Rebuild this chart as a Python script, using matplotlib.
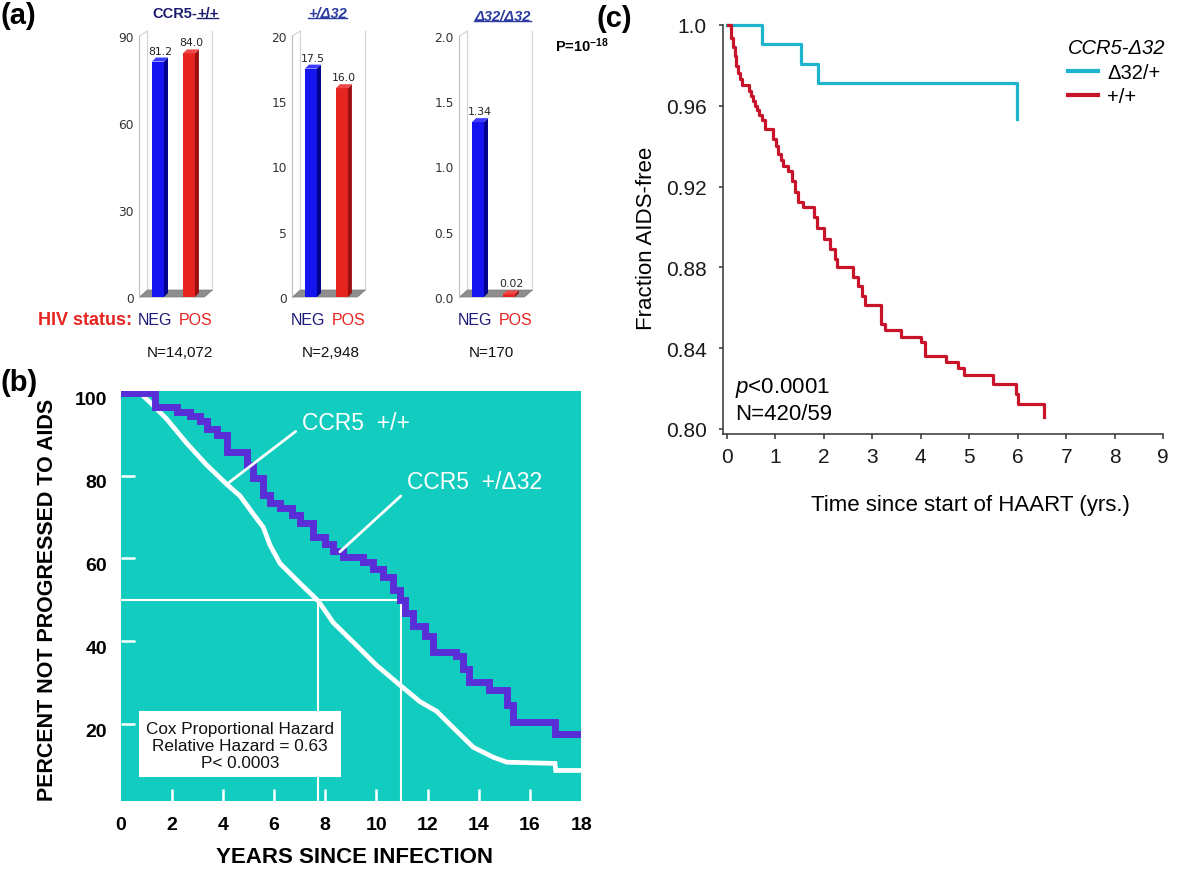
import numpy as np
import matplotlib
matplotlib.use('Agg')
import matplotlib.pyplot as plt
from matplotlib.patches import Polygon, Rectangle
from matplotlib.lines import Line2D
from matplotlib.transforms import offset_copy

plt.rcParams['font.family'] = ['Liberation Sans', 'DejaVu Sans']
plt.rcParams['mathtext.fontset'] = 'custom'
plt.rcParams['mathtext.rm'] = 'Liberation Sans'
plt.rcParams['mathtext.it'] = 'Liberation Sans:italic'
plt.rcParams['mathtext.bf'] = 'Liberation Sans:bold'

# ---------------- data ----------------
# (a) genotype frequencies (%) by HIV status
genotype_prefix = 'CCR5-'
genotypes = ['+/+', '+/Δ32', 'Δ32/Δ32']
hiv_status = ['NEG', 'POS']
freq_neg = [81.2, 17.5, 1.34]
freq_pos = [84.0, 16.0, 0.02]
freq_neg_labels = ['81.2', '17.5', '1.34']
freq_pos_labels = ['84.0', '16.0', '0.02']
bar_ymax = [90, 20, 2.0]
bar_yticks = [[0, 30, 60, 90], [0, 5, 10, 15, 20], [0, 0.5, 1.0, 1.5, 2.0]]
bar_yticklabels = [['0', '30', '60', '90'], ['0', '5', '10', '15', '20'],
                   ['0.0', '0.5', '1.0', '1.5', '2.0']]
n_labels = ['N=14,072', 'N=2,948', 'N=170']
p_text_a = r'P=10$^{\mathbf{-18}}$'

# (b) percent not progressed to AIDS vs years since infection
wt_years = [0, 0.76, 1.15, 1.8, 2.59, 3.36, 4.15, 4.67, 5.19, 5.58, 5.84, 6.23, 7.01,
            7.73, 8.31, 9.22, 10.0, 10.92, 11.7, 12.35, 13.0, 13.78, 14.56, 15.09,
            16.97, 17.0, 18.0]
wt_pct = [100, 100, 97.7, 93.7, 87.8, 82.6, 77.9, 75.1, 70.7, 67.5, 63.2, 58.8, 54.0,
          49.7, 44.5, 39.0, 34.2, 29.4, 25.4, 23.1, 19.1, 14.4, 12.0, 10.8,
          10.5, 8.8, 8.8]
het_years = [0, 1.35, 2.19, 2.72, 3.1, 3.36, 3.76, 4.15, 4.93, 5.19, 5.58, 5.84, 6.23,
             6.69, 7.01, 7.53, 8.0, 8.31, 8.7, 9.48, 9.87, 10.26, 10.65, 10.9, 11.1,
             11.44, 11.9, 12.2, 13.1, 13.36, 13.6, 14.4, 15.08, 15.34, 16.97, 18.0]
het_pct = [100, 96.5, 95.3, 94.5, 93.3, 91.3, 89.7, 85.8, 82.6, 79.4, 75.4, 73.4, 72.2,
           70.6, 68.6, 65.1, 63.5, 61.9, 60.3, 59.1, 57.5, 55.5, 52.4, 50.0, 46.8,
           43.6, 41.3, 37.3, 36.5, 33.3, 30.2, 28.2, 24.6, 20.6, 17.5, 17.5]
median_pct = 50
median_wt = 7.73
median_het = 10.95
b_xticks = list(range(0, 19, 2))
b_yticks = [20, 40, 60, 80, 100]
cox_text = 'Cox Proportional Hazard\nRelative Hazard = 0.63\nP< 0.0003'

# (c) fraction AIDS-free vs time since HAART
d32_years = [0, 0.72, 1.53, 1.88, 5.98]
d32_frac = [1.0, 0.9906, 0.9807, 0.9711, 0.9535]
wt_c_years = [0.03, 0.08, 0.13, 0.17, 0.20, 0.24, 0.28, 0.31, 0.45, 0.51, 0.55, 0.58,
              0.62, 0.66, 0.72, 0.79, 0.96, 1.01, 1.06, 1.12, 1.17, 1.27, 1.34, 1.41,
              1.48, 1.58, 1.79, 1.86, 2.01, 2.13, 2.23, 2.28, 2.60, 2.71, 2.78, 2.85,
              3.19, 3.26, 3.60, 4.01, 4.08, 4.53, 4.77, 4.89, 5.48, 5.97, 6.01, 6.54]
wt_c_frac = [1.0, 0.9934, 0.9889, 0.9845, 0.9798, 0.9760, 0.9733, 0.9702, 0.9675,
             0.9650, 0.9625, 0.9600, 0.9578, 0.9555, 0.9530, 0.9485, 0.9436, 0.9400,
             0.9361, 0.9330, 0.9303, 0.9278, 0.9229, 0.9175, 0.9125, 0.9097, 0.9048,
             0.8993, 0.8940, 0.8891, 0.8842, 0.8803, 0.8751, 0.8710, 0.8660, 0.8616,
             0.8520, 0.8491, 0.8457, 0.8430, 0.8363, 0.8330, 0.8300, 0.8267, 0.8223,
             0.8173, 0.8124, 0.8058]
c_xticks = list(range(0, 10))
c_yticks = [0.80, 0.84, 0.88, 0.92, 0.96, 1.0]
c_yticklabels = ['0.80', '0.84', '0.88', '0.92', '0.96', '1.0']
legend_title = 'CCR5-Δ32'
legend_labels = ['Δ32/+', '+/+']

# ---------------- figure ----------------
W, H = 1200, 870
fig = plt.figure(figsize=(12, 8.7), dpi=100)


def fx(px):
    return px / W


def fy(py):
    return 1 - py / H


def axrect(l, t, r, b):
    return [l / W, 1 - b / H, (r - l) / W, (b - t) / H]


# panel labels
for lab, x, y in [('(a)', 0, 16), ('(b)', 0, 383), ('(c)', 597, 19)]:
    fig.text(fx(x), fy(y), lab, fontsize=21, fontweight='bold', ha='left', va='center')

# ---------------- (a) bar charts ----------------
bar_left_px = [139.4, 292.4, 459.4]
ax_w_px, ax_top, ax_bot = 65, 37, 298
xmin, xmax = -0.6, 1.5
bw_px, depth_px = 12, 4
col_front = ['#1414F0', '#E62420']
col_side = ['#00008A', '#9A1010']
col_top = ['#3C3CFF', '#F04848']
status_colors = ['#1A1A78', '#E62420']
status_offsets_px = [16, 56]

for i in range(3):
    L = bar_left_px[i]
    ax = fig.add_axes(axrect(L, ax_top, L + ax_w_px, ax_bot))
    ymax = bar_ymax[i]
    ax.set_xlim(xmin, xmax)
    ax.set_ylim(0, ymax)
    ax.patch.set_visible(False)
    for s in ['top', 'right', 'bottom']:
        ax.spines[s].set_visible(False)
    ax.spines['left'].set_color('#BEBEBE')
    ax.spines['left'].set_linewidth(0.8)
    kx = (xmax - xmin) / ax_w_px
    ky = ymax / (ax_bot - ax_top)
    # floor
    floor = Polygon([(xmin, 0), (xmax, 0), (xmax + 8 * kx, 7 * ky), (xmin + 8 * kx, 7 * ky)],
                    closed=True, facecolor='#8E8E8E', edgecolor='#7A7A7A', lw=0.5,
                    clip_on=False, zorder=1)
    ax.add_patch(floor)
    # back walls
    ax.add_line(Line2D([xmin + 8 * kx, xmin + 8 * kx], [7 * ky, ymax + 5 * ky], color='#D2D2D2',
                       lw=0.8, clip_on=False, zorder=0))
    ax.add_line(Line2D([xmax + 8 * kx, xmax + 8 * kx], [7 * ky, ymax + 5 * ky], color='#D2D2D2',
                       lw=0.8, clip_on=False, zorder=0))
    ax.add_line(Line2D([xmin, xmin + 8 * kx], [ymax, ymax + 5 * ky], color='#D2D2D2',
                       lw=0.8, clip_on=False, zorder=0))
    vals = [freq_neg[i], freq_pos[i]]
    labs = [freq_neg_labels[i], freq_pos_labels[i]]
    w = bw_px * kx
    dx, dy = depth_px * kx, depth_px * ky
    bars = ax.bar([0, 1], vals, width=w, color=col_front, zorder=3, clip_on=False)
    for j, (b, v) in enumerate(zip(bars, vals)):
        xr = b.get_x() + b.get_width()
        xl = b.get_x()
        side = Polygon([(xr, 0), (xr, v), (xr + dx, v + dy), (xr + dx, dy)], closed=True,
                       facecolor=col_side[j], edgecolor='none', zorder=3, clip_on=False)
        top = Polygon([(xl, v), (xr, v), (xr + dx, v + dy), (xl + dx, v + dy)], closed=True,
                      facecolor=col_top[j], edgecolor='none', zorder=3, clip_on=False)
        ax.add_patch(side)
        ax.add_patch(top)
        ax.text(j + dx / 2, v + dy + 2 * ky, labs[j], ha='center', va='bottom',
                fontsize=7.8, family='DejaVu Sans', color='#222222', zorder=4)
    ax.set_yticks(bar_yticks[i])
    ax.set_yticklabels(bar_yticklabels[i], family='DejaVu Sans', fontsize=8.8, color='#333333')
    ax.tick_params(axis='y', length=0, pad=4)
    ax.set_xticks([])
    for lab, off, c in zip(hiv_status, status_offsets_px, status_colors):
        fig.text(fx(L + off), fy(320.5), lab, ha='center', va='center', fontsize=11.5,
                 color=c)

fig.text(fx(132), fy(320.5), 'HIV status:', ha='right', va='center', color='#E62420',
         fontsize=13, fontweight='bold')
for lab, x in zip(n_labels, [180, 331, 491]):
    fig.text(fx(x), fy(353), lab, ha='center', va='center', fontsize=11, color='#111111')

fig.text(fx(555), fy(46), p_text_a, ha='left', va='center', fontsize=10.5, fontweight='bold')

# titles with underlines
t_pre = fig.text(fx(197), fy(14), genotype_prefix, ha='right', va='center', fontsize=10.5,
                 fontweight='bold', color='#1C1C6E')
t1 = fig.text(fx(197), fy(14), genotypes[0], ha='left', va='center', fontsize=10.5,
              fontweight='bold', color='#1C1C6E')
t2 = fig.text(fx(327.5), fy(14), genotypes[1], ha='center', va='center', fontsize=10.5,
              fontweight='bold', style='italic', color='#2B3BA0')
t3 = fig.text(fx(502.5), fy(17), genotypes[2], ha='center', va='center', fontsize=10.5,
              fontweight='bold', style='italic', color='#2B3BA0')

# ---------------- (b) ----------------
teal = '#12CDBF'
purple = '#5A2ED6'
ax_b = fig.add_axes(axrect(120.5, 391.7, 581.3, 801.7))
ax_b.set_facecolor(teal)
for s in ax_b.spines.values():
    s.set_visible(False)
ax_b.set_xlim(0, 18)
ax_b.set_ylim(1.5, 100.5)
ax_b.plot(wt_years, wt_pct, color='white', lw=3.4, zorder=3, solid_joinstyle='miter')
ax_b.plot(het_years, het_pct, color=purple, lw=5.0, drawstyle='steps-post', zorder=4,
          solid_joinstyle='miter')
ax_b.hlines(median_pct, 0, median_het, color='white', lw=1.5, zorder=2)
ax_b.vlines([median_wt, median_het], 1.5, median_pct, color='white', lw=1.5, zorder=2)

ax_b.set_xticks(b_xticks)
ax_b.set_xticklabels([str(v) for v in b_xticks], fontsize=14, fontweight='bold')
ax_b.tick_params(axis='x', direction='in', length=8.6, width=1.8, color='white', pad=11)
xt = ax_b.xaxis.get_major_ticks()
xt[0].tick1line.set_visible(False)
xt[-1].tick1line.set_visible(False)
ax_b.set_yticks(b_yticks)
ax_b.set_yticklabels([])
ax_b.tick_params(axis='y', direction='in', length=10, width=1.8, color='white')
ax_b.yaxis.get_major_ticks()[-1].tick1line.set_visible(False)
ylab_tr = offset_copy(ax_b.get_yaxis_transform(), fig=fig, x=-0.135, y=-0.07, units='inches')
for v in b_yticks:
    ax_b.text(0, v, str(v), transform=ylab_tr, ha='right', va='center', fontsize=14,
              fontweight='bold', clip_on=False)

ax_b.annotate('CCR5  +/+', xy=(4.21, 78.2), xytext=(7.08, 92.9), color='white', fontsize=16.5,
              ha='left', va='center',
              arrowprops=dict(arrowstyle='-', color='white', lw=2, shrinkA=3, shrinkB=0,
                              relpos=(0, 0.3)), zorder=5)
ax_b.annotate('CCR5  +/Δ32', xy=(8.57, 61.6), xytext=(11.18, 78.6), color='white',
              fontsize=16.5, ha='left', va='center',
              arrowprops=dict(arrowstyle='-', color='white', lw=2, shrinkA=3, shrinkB=0,
                              relpos=(0, 0.1)), zorder=5)

ax_b.add_patch(Rectangle((0.0408, 0.057), 0.437, 0.1625, transform=ax_b.transAxes,
                         facecolor='white', edgecolor='none', zorder=6))
ax_b.text(0.2594, 0.134, cox_text, transform=ax_b.transAxes, ha='center', va='center',
          fontsize=12.3, linespacing=1.18, zorder=7, color='#111111')

fig.text(fx(47.5), fy(600), 'PERCENT NOT PROGRESSED TO AIDS', rotation=90, ha='center',
         va='center', fontsize=15.5, fontweight='bold')
fig.text(fx(355), fy(858), 'YEARS SINCE INFECTION', ha='center', va='center', fontsize=16,
         fontweight='bold')

# ---------------- (c) ----------------
cyan = '#1EB4CE'
red = '#C8142A'
ax_c = fig.add_axes(axrect(723.3, 26, 1163.3, 435))
ax_c.set_xlim(-0.07, 9.0)
ax_c.set_ylim(0.7975, 1.0)
for s in ['top', 'right']:
    ax_c.spines[s].set_visible(False)
for s in ['left', 'bottom']:
    ax_c.spines[s].set_color('#333333')
    ax_c.spines[s].set_linewidth(1.1)
l_d32, = ax_c.plot(d32_years, d32_frac, color=cyan, lw=2.3, drawstyle='steps-post',
                   clip_on=False, zorder=3)
l_wt, = ax_c.plot(wt_c_years, wt_c_frac, color=red, lw=2.3, drawstyle='steps-post',
                  clip_on=False, zorder=3)
ax_c.set_xticks(c_xticks)
ax_c.set_xticklabels([str(v) for v in c_xticks], fontsize=15, color='#1A1A1A')
ax_c.set_yticks(c_yticks)
ax_c.set_yticklabels(c_yticklabels, fontsize=15, color='#1A1A1A')
ax_c.tick_params(axis='x', length=3.6, width=1.1, color='#333333', pad=6)
ax_c.tick_params(axis='y', length=3, width=1.1, color='#333333', pad=8.8)
fig.text(fx(646), fy(238), 'Fraction AIDS-free', rotation=90, ha='center', va='center',
         fontsize=16)
fig.text(fx(970), fy(505), 'Time since start of HAART (yrs.)', ha='center', va='center',
         fontsize=16)
fig.text(fx(735), fy(388), r'$\mathit{p}$<0.0001', ha='left', va='center', fontsize=16)
fig.text(fx(735), fy(415), 'N=420/59', ha='left', va='center', fontsize=16)
leg = ax_c.legend([l_d32, l_wt], legend_labels, title=legend_title,
                  loc='upper left', bbox_to_anchor=(fx(1068), fy(39)),
                  bbox_transform=fig.transFigure, frameon=False, fontsize=14.5,
                  title_fontsize=14.5, handlelength=1.5, handletextpad=0.45,
                  labelspacing=0.28, borderpad=0, borderaxespad=0, alignment='left')
leg.get_title().set_style('italic')
for ln in leg.get_lines():
    ln.set_linewidth(3)

# underlines for the genotype titles
fig.canvas.draw()
r = fig.canvas.get_renderer()
for t, col in [(t1, '#1C1C6E'), (t2, '#2B3BA0'), (t3, '#2B3BA0')]:
    bb = t.get_window_extent(r)
    yline = bb.y0 + 2.5
    fig.add_artist(Line2D([bb.x0 / W, bb.x1 / W], [yline / H, yline / H], color=col, lw=1.0,
                          transform=fig.transFigure))

fig.savefig('out.png', dpi=100)
